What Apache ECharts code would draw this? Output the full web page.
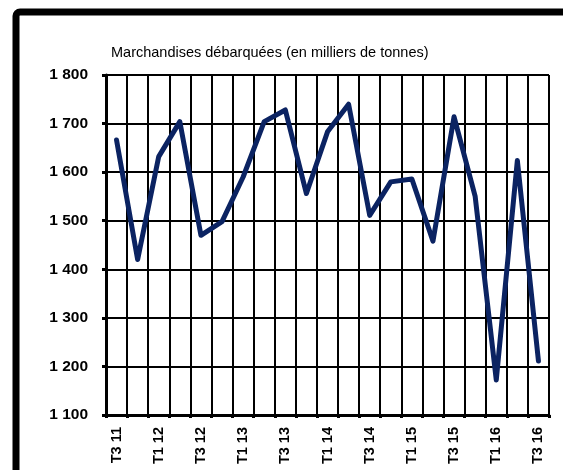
<!DOCTYPE html>
<html>
<head>
<meta charset="utf-8">
<script src="https://cdn.jsdelivr.net/npm/echarts@6/dist/echarts.min.js"></script>
<style>
  html, body { margin: 0; padding: 0; background: #fff; }
  #chart { width: 563px; height: 470px; }
</style>
</head>
<body>
<div id="chart"></div>
<script>
// quarters T3 2011 .. T3 2016
const quarters = [
  "T3 11", "T4 11", "T1 12", "T2 12", "T3 12", "T4 12", "T1 13", "T2 13",
  "T3 13", "T4 13", "T1 14", "T2 14", "T3 14", "T4 14", "T1 15", "T2 15",
  "T3 15", "T4 15", "T1 16", "T2 16", "T3 16"
];
// marchandises débarquées, milliers de tonnes
const landed = [
  1666, 1420, 1632, 1704, 1470, 1498, 1590, 1704,
  1728, 1556, 1683, 1740, 1511, 1580, 1586, 1458,
  1714, 1550, 1172, 1624, 1211
];
const yMin = 1100;
const yMax = 1800;
const yStep = 100;

// "1 800" style thousands separator
function fmt(v) {
  return String(v).replace(/\B(?=(\d{3})+(?!\d))/g, " ");
}

const chart = echarts.init(document.getElementById("chart"));
chart.setOption({
  animation: false,
  title: {
    text: "Marchandises débarquées (en milliers de tonnes)",
    left: 106,
    top: 40,
    textStyle: {
      fontFamily: "Liberation Sans",
      fontSize: 14.5,
      fontWeight: "normal",
      color: "#000",
    },
  },
  graphic: [
    {
      type: "rect",
      shape: { x: 16, y: 12, width: 620, height: 600, r: 4 },
      style: { fill: "none", stroke: "#000", lineWidth: 7 },
      z: 100,
      silent: true,
    },
  ],
  grid: {
    left: 106,
    right: 14,
    top: 75,
    bottom: 55,
  },
  xAxis: {
    type: "category",
    data: quarters,
    boundaryGap: true,
    axisLine: { lineStyle: { color: "#000", width: 3 } },
    axisTick: {
      show: true,
      interval: 0,
      length: 3,
      lineStyle: { color: "#000", width: 3 },
    },
    splitLine: {
      show: true,
      interval: 0,
      lineStyle: { color: "#000", width: 2 },
    },
    axisLabel: {
      interval: 1,
      rotate: 90,
      margin: 12,
      color: "#000",
      fontFamily: "Liberation Sans",
      fontWeight: "bold",
      fontSize: 14.5,
    },
  },
  yAxis: {
    type: "value",
    min: yMin,
    max: yMax,
    interval: yStep,
    axisLine: { show: true, lineStyle: { color: "#000", width: 3 } },
    axisTick: { show: true, length: 4, lineStyle: { color: "#000", width: 3 } },
    splitLine: { lineStyle: { color: "#000", width: 2 } },
    axisLabel: {
      margin: 18,
      color: "#000",
      fontFamily: "Liberation Sans",
      fontWeight: "bold",
      fontSize: 15.5,
      formatter: fmt,
    },
  },
  series: [
    {
      name: "Marchandises débarquées",
      type: "line",
      data: landed,
      showSymbol: false,
      symbol: "none",
      lineStyle: { color: "#0b2362", width: 5, cap: "round", join: "round" },
      z: 5,
    },
  ],
});
</script>
</body>
</html>
